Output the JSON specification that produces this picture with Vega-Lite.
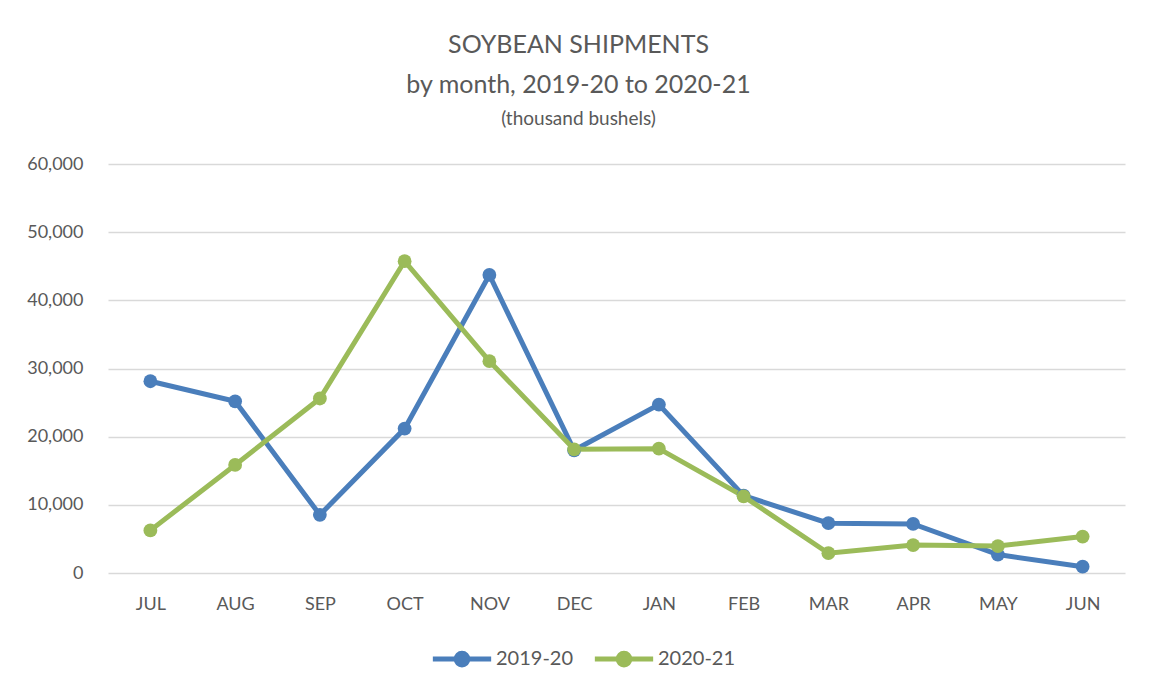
{
  "$schema": "https://vega.github.io/schema/vega-lite/v6.json",
  "autosize": "none",
  "width": 1017,
  "height": 409,
  "padding": {"left": 108, "top": 164, "right": 26, "bottom": 123},
  "background": "white",
  "config": {"view": {"stroke": null}},
  "title": {
    "text": ["SOYBEAN SHIPMENTS", "by month,  2019-20 to 2020-21"],
    "subtitle": "(thousand bushels)",
    "anchor": "middle",
    "dx": -38,
    "offset": 26,
    "font": "Lato",
    "fontWeight": 400,
    "fontSize": 25,
    "lineHeight": 40,
    "color": "#595959",
    "subtitleFont": "Lato",
    "subtitleFontWeight": 400,
    "subtitleFontSize": 19,
    "subtitleColor": "#595959",
    "subtitlePadding": 12
  },
  "data": {
    "values": [
      {"month": "JUL", "season": "2019-20", "value": 28130},
      {"month": "AUG", "season": "2019-20", "value": 25190},
      {"month": "SEP", "season": "2019-20", "value": 8530},
      {"month": "OCT", "season": "2019-20", "value": 21180},
      {"month": "NOV", "season": "2019-20", "value": 43720},
      {"month": "DEC", "season": "2019-20", "value": 18000},
      {"month": "JAN", "season": "2019-20", "value": 24710},
      {"month": "FEB", "season": "2019-20", "value": 11350},
      {"month": "MAR", "season": "2019-20", "value": 7310},
      {"month": "APR", "season": "2019-20", "value": 7200},
      {"month": "MAY", "season": "2019-20", "value": 2700},
      {"month": "JUN", "season": "2019-20", "value": 930},
      {"month": "JUL", "season": "2020-21", "value": 6250},
      {"month": "AUG", "season": "2020-21", "value": 15850},
      {"month": "SEP", "season": "2020-21", "value": 25600},
      {"month": "OCT", "season": "2020-21", "value": 45750},
      {"month": "NOV", "season": "2020-21", "value": 31080},
      {"month": "DEC", "season": "2020-21", "value": 18150},
      {"month": "JAN", "season": "2020-21", "value": 18240},
      {"month": "FEB", "season": "2020-21", "value": 11250},
      {"month": "MAR", "season": "2020-21", "value": 2900},
      {"month": "APR", "season": "2020-21", "value": 4100},
      {"month": "MAY", "season": "2020-21", "value": 3950},
      {"month": "JUN", "season": "2020-21", "value": 5340}
    ]
  },
  "mark": {
    "type": "line",
    "strokeWidth": 5,
    "point": {"filled": true, "size": 190, "strokeWidth": 1.5, "opacity": 1}
  },
  "encoding": {
    "x": {
      "field": "month",
      "type": "ordinal",
      "sort": ["JUL", "AUG", "SEP", "OCT", "NOV", "DEC", "JAN", "FEB", "MAR", "APR", "MAY", "JUN"],
      "scale": {"type": "point", "padding": 0.5},
      "axis": {
        "title": null,
        "domain": false,
        "ticks": false,
        "grid": false,
        "labelAngle": 0,
        "labelPadding": 22,
        "labelFont": "Lato",
        "labelFontSize": 18,
        "labelColor": "#595959"
      }
    },
    "y": {
      "field": "value",
      "type": "quantitative",
      "scale": {"domain": [0, 60000], "nice": false},
      "axis": {
        "title": null,
        "values": [0, 10000, 20000, 30000, 40000, 50000, 60000],
        "format": ",.0f",
        "domain": false,
        "ticks": false,
        "grid": true,
        "gridColor": "#d9d9d9",
        "gridWidth": 1.5,
        "labelPadding": 25,
        "labelFont": "Lato",
        "labelFontSize": 18,
        "labelColor": "#595959"
      }
    },
    "color": {
      "field": "season",
      "type": "nominal",
      "scale": {"domain": ["2019-20", "2020-21"], "range": ["#4A7EBB", "#9BBB59"]},
      "legend": {
        "title": null,
        "orient": "none",
        "direction": "horizontal",
        "legendX": 322,
        "legendY": 463,
        "symbolType": "M-1,0L1,0M-0.2,0A0.2,0.2,0,1,1,0.2,0A0.2,0.2,0,1,1,-0.2,0Z",
        "symbolSize": 3400,
        "symbolStrokeWidth": 5,
        "labelFont": "Lato",
        "labelFontSize": 20,
        "labelColor": "#595959",
        "labelOffset": 2,
        "columnPadding": 10,
        "encode": {
          "symbols": {"update": {"fill": {"scale": "color", "field": "value"}}}
        }
      }
    }
  }
}
